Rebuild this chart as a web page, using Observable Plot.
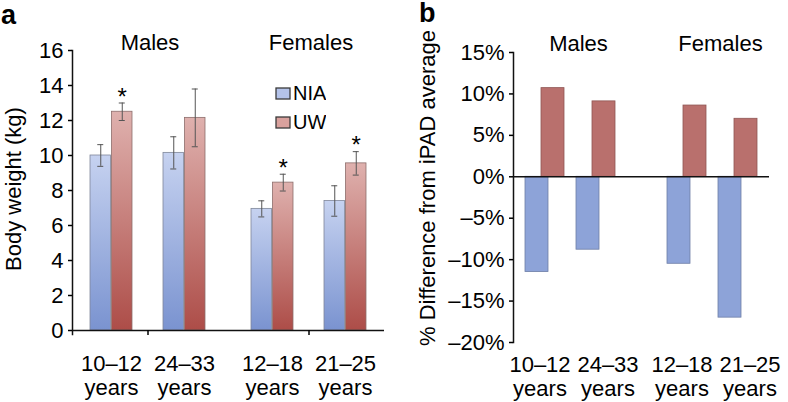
<!DOCTYPE html>
<html>
<head>
<meta charset="utf-8">
<script src="https://cdn.jsdelivr.net/npm/d3@7"></script>
<script src="https://cdn.jsdelivr.net/npm/@observablehq/plot@0.6"></script>
<style>
  body { margin: 0; background: #fff; }
  #wrap { position: relative; width: 788px; height: 402px; overflow: hidden;
          font-family: "Liberation Sans", Arial, Helvetica, sans-serif; color: #000; }
  #pa, #pb { position: absolute; top: 0; }
  #pa { left: 0; }
  #pb { left: 394px; }
  .letter { position: absolute; font-weight: bold; font-size: 27px; line-height: 1; }
  #lg { position: absolute; left: 276px; top: 82px; }
  #lg .lg-swatch { font-size: 20px !important; line-height: 23px !important; padding-bottom: 6px !important; margin: 0 !important; }
  #lg svg { overflow: visible; margin-right: 3px !important; }
  #lg rect { stroke: #3a3a3a; stroke-width: 1.3px; }
</style>
</head>
<body>
<div id="wrap">
  <div id="pa"></div>
  <div id="pb"></div>
  <div class="letter" style="left:1px;top:2px;">a</div>
  <div class="letter" style="left:419px;top:0px;">b</div>
  <div id="lg"></div>
</div>
<script>
// ---------- data ----------
const series = ["NIA", "UW"];
const groups = ["Males", "Females"];
const categories = ["10–12 years", "24–33 years", "12–18 years", "21–25 years"];
const categoryGroup = ["Males", "Males", "Females", "Females"];

const weightNIA = [10.0, 10.15, 6.95, 7.4];
const weightUW = [12.5, 12.15, 8.45, 9.55];
const errorNIA = [0.62, 0.92, 0.46, 0.87];
const errorUW = [0.5, 1.65, 0.48, 0.67];
const significantUW = [true, false, true, true];

const pctDiffNIA = [-11.5, -8.8, -10.5, -17.0];
const pctDiffUW = [10.7, 9.1, 8.6, 7.0];

const weightTicks = [0, 2, 4, 6, 8, 10, 12, 14, 16];
const pctTicks = [15, 10, 5, 0, -5, -10, -15, -20];

const labelA = "Body weight (kg)";
const labelB = "% Difference from iPAD average";
const legendColors = ["#b4c3ea", "#d9a19d"];

// ---------- derived tables ----------
const slotOf = (i) => String(categories.filter((c, j) => j < i && categoryGroup[j] === categoryGroup[i]).length);
const rows = categories.map((c, i) => ({
  category: c,
  lines: c.replace(" ", "\n"),
  group: categoryGroup[i],
  slot: slotOf(i),
  nia: weightNIA[i], uw: weightUW[i],
  eNia: errorNIA[i], eUw: errorUW[i],
  sig: significantUW[i],
  dNia: pctDiffNIA[i], dUw: pctDiffUW[i]
}));
const slots = ["0", "1"];

const font = '"Liberation Sans", Arial, Helvetica, sans-serif';

function gradientDefs() {
  const defs = d3.create("svg:defs");
  const mk = (id, top, bottom) => {
    const g = defs.append("linearGradient").attr("id", id)
      .attr("x1", 0).attr("y1", 0).attr("x2", 0).attr("y2", 1);
    g.append("stop").attr("offset", "0%").attr("stop-color", top);
    g.append("stop").attr("offset", "100%").attr("stop-color", bottom);
  };
  mk("gradNIA", "#c6d2f0", "#7a93d0");
  mk("gradUW", "#dfb1ae", "#ad4d48");
  return defs.node();
}

// ---------- panel a ----------
const half = 21.5, q = 10.75;
const plotA = Plot.plot({
  width: 394, height: 402,
  marginLeft: 71, marginRight: 9, marginTop: 50, marginBottom: 72,
  style: { fontFamily: font, fontSize: "22px", color: "#000", background: "transparent" },
  fx: { domain: groups, paddingInner: 0.0593, paddingOuter: 0, axis: null },
  x: { domain: slots, paddingInner: 0.4205, paddingOuter: 0.2358, axis: null },
  y: { domain: [0, 16], axis: null },
  marks: [
    gradientDefs,
    Plot.barY(rows, { fx: "group", x: "slot", y: "nia", fill: "url(#gradNIA)", stroke: "#7f8699", strokeWidth: 0.8, insetRight: half }),
    Plot.barY(rows, { fx: "group", x: "slot", y: "uw", fill: "url(#gradUW)", stroke: "#8d6e6c", strokeWidth: 0.8, insetLeft: half }),
    Plot.ruleX(rows, { fx: "group", x: "slot", y1: d => d.nia - d.eNia, y2: d => d.nia + d.eNia, dx: -q, stroke: "#555", strokeWidth: 1 }),
    Plot.tickY(rows, { fx: "group", x: "slot", y: d => d.nia - d.eNia, dx: -q, insetLeft: 18, insetRight: 18, stroke: "#555", strokeWidth: 1 }),
    Plot.tickY(rows, { fx: "group", x: "slot", y: d => d.nia + d.eNia, dx: -q, insetLeft: 18, insetRight: 18, stroke: "#555", strokeWidth: 1 }),
    Plot.ruleX(rows, { fx: "group", x: "slot", y1: d => d.uw - d.eUw, y2: d => d.uw + d.eUw, dx: q, stroke: "#555", strokeWidth: 1 }),
    Plot.tickY(rows, { fx: "group", x: "slot", y: d => d.uw - d.eUw, dx: q, insetLeft: 18, insetRight: 18, stroke: "#555", strokeWidth: 1 }),
    Plot.tickY(rows, { fx: "group", x: "slot", y: d => d.uw + d.eUw, dx: q, insetLeft: 18, insetRight: 18, stroke: "#555", strokeWidth: 1 }),
    Plot.text(rows.filter(d => d.sig), { fx: "group", x: "slot", y: d => d.uw + d.eUw, text: () => "*", dx: q, dy: -6, fontSize: 24, lineAnchor: "middle" }),
    Plot.ruleY([0], { facetAnchor: "left", insetRight: -5, stroke: "#111", strokeWidth: 1.5 }),
    Plot.ruleY([0], { facetAnchor: "right", insetLeft: -5, stroke: "#111", strokeWidth: 1.5 }),
    Plot.frame({ anchor: "left", facetAnchor: "left", insetBottom: -4, stroke: "#111", strokeWidth: 1.5 }),
    Plot.axisY({ ticks: weightTicks, tickSize: 4, tickPadding: 5, label: null, fontSize: 22, strokeWidth: 1.5 }),
    Plot.axisFx({ anchor: "bottom", tickSize: 5, tickFormat: () => "", label: null, strokeWidth: 1.5 }),
    Plot.text(groups, { fx: d => d, text: d => d, frameAnchor: "top", lineAnchor: "bottom", dy: -1, dx: 2, fontSize: 22 }),
    Plot.text(rows, { fx: "group", x: "slot", text: "lines", frameAnchor: "bottom", lineAnchor: "top", dy: 23, lineHeight: 1.09, fontSize: 22 }),
    Plot.text([labelA], { text: d => d, frameAnchor: "left", facetAnchor: "left", rotate: -90, textAnchor: "middle", lineAnchor: "top", dx: -67, dy: -1.5, fontSize: 22 })
  ]
});
document.getElementById("pa").append(plotA);

// ---------- panel b ----------
const pctFormat = d => (d < 0 ? "\u2013" + (-d) : String(d)) + "%";
const plotB = Plot.plot({
  width: 394, height: 402,
  marginLeft: 119, marginRight: 18, marginTop: 52, marginBottom: 60,
  style: { fontFamily: font, fontSize: "22px", color: "#000", background: "transparent" },
  fx: { domain: groups, paddingInner: 0.1965, paddingOuter: 0, axis: null },
  x: { domain: slots, paddingInner: 0.2308, paddingOuter: 0.2163, axis: null },
  y: { domain: [-20, 15], axis: null },
  marks: [
    Plot.barY(rows, { fx: "group", x: "slot", y: "dNia", fill: "#8da3d8", stroke: "#6e7ea6", strokeWidth: 0.8, insetRight: 16 }),
    Plot.barY(rows, { fx: "group", x: "slot", y: "dUw", fill: "#b9706d", stroke: "#8f5553", strokeWidth: 0.8, insetLeft: 16 }),
    Plot.ruleY([0], { facetAnchor: "left", insetRight: -14, stroke: "#111", strokeWidth: 1.5 }),
    Plot.ruleY([0], { facetAnchor: "right", insetLeft: -14, stroke: "#111", strokeWidth: 1.5 }),
    Plot.frame({ anchor: "left", facetAnchor: "left", stroke: "#111", strokeWidth: 1.5 }),
    Plot.axisY({ ticks: pctTicks, tickFormat: pctFormat, tickSize: 4, tickPadding: 5, label: null, fontSize: 22, strokeWidth: 1.5 }),
    Plot.text(groups, { fx: d => d, text: d => d, frameAnchor: "top", lineAnchor: "bottom", dy: -2, dx: 8, fontSize: 22 }),
    Plot.text(rows, { filter: d => d.slot === "0", fx: "group", x: "slot", text: "lines", frameAnchor: "bottom", lineAnchor: "top", dy: 13, dx: -5, lineHeight: 1.08, fontSize: 22 }),
    Plot.text(rows, { filter: d => d.slot === "1", fx: "group", x: "slot", text: "lines", frameAnchor: "bottom", lineAnchor: "top", dy: 13, dx: 12, lineHeight: 1.08, fontSize: 22 }),
    Plot.text([labelB], { text: d => d, frameAnchor: "left", facetAnchor: "left", rotate: -90, textAnchor: "middle", lineAnchor: "top", dx: -94, dy: -9.5, fontSize: 22 })
  ]
});
document.getElementById("pb").append(plotB);

// ---------- legend ----------
const legend = Plot.legend({
  color: { type: "ordinal", domain: series, range: legendColors },
  legend: "swatches", columns: 1, swatchWidth: 14, swatchHeight: 11,
  className: "lg", style: { fontFamily: font, fontSize: "20px", color: "#000" }
});
document.getElementById("lg").append(legend);
</script>
</body>
</html>
